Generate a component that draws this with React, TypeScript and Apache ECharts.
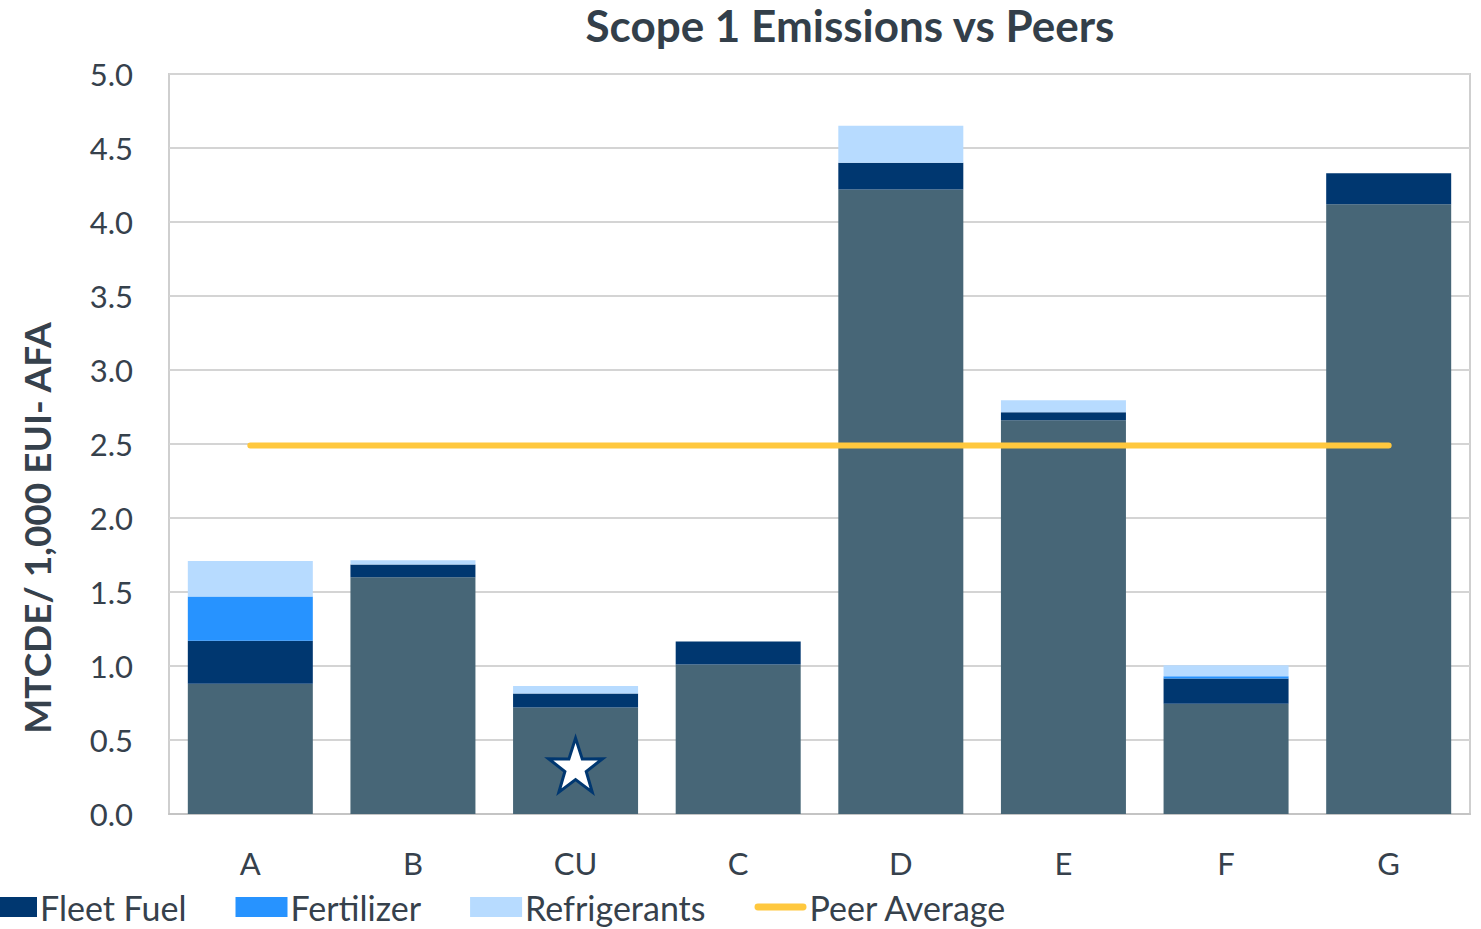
import React, { useEffect, useRef } from "react";
import * as echarts from "echarts";

const categories = ["A", "B", "CU", "C", "D", "E", "F", "G"];
const baseValues = [0.88, 1.6, 0.72, 1.01, 4.22, 2.66, 0.745, 4.12];
const fleetFuel = [0.29, 0.085, 0.095, 0.155, 0.18, 0.055, 0.17, 0.21];
const fertilizer = [0.3, 0, 0, 0, 0, 0, 0.015, 0];
const refrigerants = [0.24, 0.03, 0.05, 0, 0.25, 0.08, 0.075, 0];
const peerAverage = [2.49, 2.49, 2.49, 2.49, 2.49, 2.49, 2.49, 2.49];
const starMarker = [["CU", 0.33]];
const yTicks = { min: 0, max: 5, interval: 0.5 };

const FONT = "Lato";
const TEXT = "#36414C";

export default function App() {
  const ref = useRef<HTMLDivElement>(null);
  useEffect(() => {
    document.body.style.margin = "0";
    const chart = echarts.init(ref.current!, null, { renderer: "svg" });
    const starPath =
      "path://M50,0 L61.8,35.1 L97.6,34.5 L68.8,55.9 L79.4,90.5 L50,69.5 L20.6,90.5 L31.2,55.9 L2.4,34.5 L38.2,35.1 Z";
    const lineIcon = "path://M4,0 L56,0 A4,4 0 0 1 56,8 L4,8 A4,4 0 0 1 4,0 Z";
    chart.setOption({
      animation: false,
      textStyle: { fontFamily: FONT },
      title: {
        text: "Scope 1 Emissions vs Peers",
        left: 845,
        textAlign: "center",
        top: -2,
        textStyle: { fontFamily: FONT, fontSize: 44, fontWeight: "bold", color: "#333F4A" },
      },
      grid: {
        left: 169,
        right: 11,
        top: 74,
        bottom: 115,
        show: true,
        borderColor: "#cfcfcf",
        borderWidth: 2,
      },
      legend: {
        left: -20,
        bottom: 0,
        itemWidth: 52,
        itemHeight: 20,
        itemGap: 49,
        data: [
          { name: "Fleet Fuel", icon: "rect" },
          { name: "Fertilizer", icon: "rect" },
          { name: "Refrigerants", icon: "rect" },
          { name: "Peer Average", icon: lineIcon, itemStyle: { color: "#FFC83E" } },
        ],
        textStyle: { fontFamily: FONT, fontSize: 34, color: TEXT, padding: [0, 0, 0, -2] },
      },
      graphic: [
        {
          type: "text",
          x: 36,
          y: 528,
          rotation: Math.PI / 2,
          style: {
            text: "MTCDE/ 1,000 EUI- AFA",
            fontFamily: FONT,
            fontSize: 37,
            fontWeight: "bold",
            fill: TEXT,
            align: "center",
            verticalAlign: "middle",
          },
        },
      ],
      xAxis: {
        type: "category",
        data: categories,
        axisTick: { show: false },
        axisLine: { lineStyle: { color: "#c4c4c4", width: 2 } },
        axisLabel: { fontFamily: FONT, fontSize: 31, color: TEXT, margin: 33 },
      },
      yAxis: {
        type: "value",
        min: yTicks.min,
        max: yTicks.max,
        interval: yTicks.interval,
        axisLine: { show: false },
        axisTick: { show: false },
        splitLine: { lineStyle: { color: "#d4d4d4", width: 2 } },
        axisLabel: {
          fontFamily: FONT,
          fontSize: 31,
          color: TEXT,
          margin: 36,
          formatter: (v: number) => v.toFixed(1),
        },
      },
      series: [
        {
          name: "Stationary",
          type: "bar",
          stack: "s",
          barWidth: 125,
          data: baseValues,
          itemStyle: { color: "#476677" },
        },
        {
          name: "Fleet Fuel",
          type: "bar",
          stack: "s",
          barWidth: 125,
          data: fleetFuel,
          itemStyle: { color: "#003770" },
        },
        {
          name: "Fertilizer",
          type: "bar",
          stack: "s",
          barWidth: 125,
          data: fertilizer,
          itemStyle: { color: "#2793FF" },
        },
        {
          name: "Refrigerants",
          type: "bar",
          stack: "s",
          barWidth: 125,
          data: refrigerants,
          itemStyle: { color: "#B7DBFF" },
        },
        {
          name: "Peer Average",
          type: "line",
          data: peerAverage,
          symbol: "none",
          lineStyle: { color: "#FFC83E", width: 6, cap: "round" },
          itemStyle: { color: "#FFC83E" },
          z: 5,
        },
        {
          name: "Marker",
          type: "scatter",
          data: starMarker,
          symbol: starPath,
          symbolSize: [54, 54],
          itemStyle: { color: "#ffffff", borderColor: "#003770", borderWidth: 3, opacity: 1 },
          z: 6,
        },
      ],
    });
    return () => chart.dispose();
  }, []);
  return <div ref={ref} style={{ width: 1481, height: 929 }} />;
}
